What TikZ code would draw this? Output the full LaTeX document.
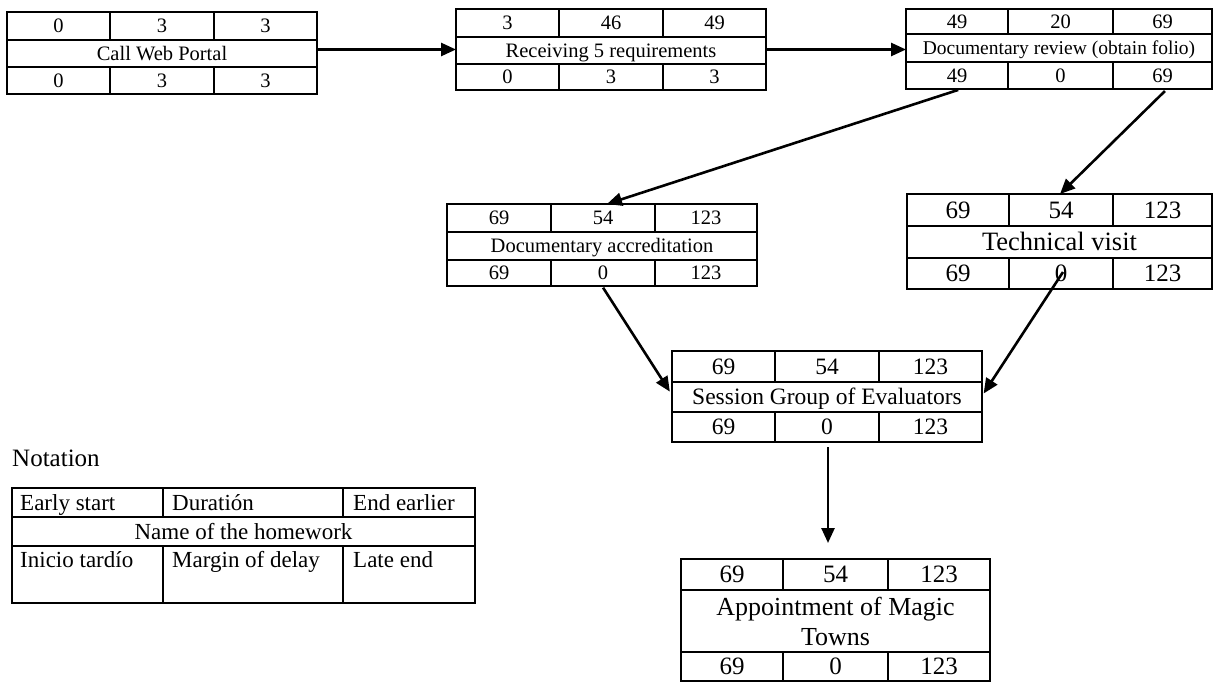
\documentclass[tikz,border=0pt]{standalone}
\usepackage{fontspec}
\setmainfont{Liberation Serif}
\usetikzlibrary{arrows.meta,calc}
\tikzset{
  frame/.style={draw=black, line width=1.2pt, inner sep=0pt, outer sep=0pt, rectangle},
  cell/.style={draw=black, line width=1.2pt},
  arr/.style={draw=black, line width=2.6pt, -{Triangle[length=15pt,width=13pt]}},
  txt/.style={inner sep=0pt, text depth=0pt},
  fa/.style={txt, text height=13.5pt, font=\fontsize{20.5}{24}\selectfont},
  fc/.style={txt, text height=12.9pt, font=\fontsize{19.5}{23}\selectfont},
  fe/.style={txt, text height=16.5pt, font=\fontsize{25}{30}\selectfont},
  fv/.style={txt, text height=17.5pt, font=\fontsize{26.5}{30}\selectfont},
  ff/.style={txt, text height=15.5pt, font=\fontsize{23.5}{28}\selectfont},
  fg/.style={inner sep=0pt, align=center, font=\fontsize{26}{30}\selectfont},
  fn/.style={txt, text height=15.2pt, anchor=west, font=\fontsize{23}{28}\selectfont},
}
% frame of a 3-row box: name, x1, y1, x2, y2, row1, row2, col1, col2
\newcommand\pert[9]{%
  \gdef\pxa{#2}\gdef\pya{#3}\gdef\pxb{#4}\gdef\pyb{#5}%
  \gdef\pra{#6}\gdef\prb{#7}\gdef\pca{#8}\gdef\pcb{#9}\gdef\pname{#1}%
  \node[frame, minimum width={#4-#2}, minimum height={#5-#3}] (#1) at ({(#2+#4)/2},{(#3+#5)/2}) {};
  \draw[cell] (#2,#6) -- (#4,#6) (#2,#7) -- (#4,#7)
              (#8,#3) -- (#8,#6) (#9,#3) -- (#9,#6)
              (#8,#7) -- (#8,#5) (#9,#7) -- (#9,#5);
}
% texts: cell style, label style, top a b c, label, bottom d e f
\newcommand\perttext[9]{%
  \node[#1] (\pname-a) at ({(\pxa+\pca)/2},{(\pya+\pra)/2}) {#3};
  \node[#1] (\pname-b) at ({(\pca+\pcb)/2},{(\pya+\pra)/2}) {#4};
  \node[#1] (\pname-c) at ({(\pcb+\pxb)/2},{(\pya+\pra)/2}) {#5};
  \node[#2] (\pname-n) at ({(\pxa+\pxb)/2},{(\pra+\prb)/2}) {#6};
  \node[#1] (\pname-d) at ({(\pxa+\pca)/2},{(\prb+\pyb)/2}) {#7};
  \node[#1] (\pname-e) at ({(\pca+\pcb)/2},{(\prb+\pyb)/2}) {#8};
  \node[#1] (\pname-f) at ({(\pcb+\pxb)/2},{(\prb+\pyb)/2}) {#9};
}
\begin{document}
\begin{tikzpicture}[x=1pt, y=-1pt]
  \fill[white] (0,0) rectangle (1214,682);
  \useasboundingbox (0,0) rectangle (1214,682);

  \pert{A}{7}{12}{317}{94}{40}{67}{110}{214}
  \perttext{fa}{fa}{0}{3}{3}{Call Web Portal}{0}{3}{3}

  \pert{B}{456}{9}{766}{90}{37}{64}{559}{663}
  \perttext{fa}{fa}{3}{46}{49}{Receiving 5 requirements}{0}{3}{3}

  \pert{C}{906}{9}{1212}{89}{34}{62}{1008}{1113}
  \perttext{fa}{fc}{49}{20}{69}{Documentary review (obtain folio)}{49}{0}{69}

  \pert{D}{447}{204}{757}{286}{232}{260}{551}{655}
  \perttext{fa}{fa}{69}{54}{123}{Documentary accreditation}{69}{0}{123}

  \pert{E}{907}{194}{1212}{289}{226}{258}{1009}{1113}
  \perttext{fe}{fv}{69}{54}{123}{Technical visit}{69}{0}{123}

  \pert{F}{672}{351}{982}{442}{382}{412}{775}{879}
  \perttext{ff}{ff}{69}{54}{123}{Session Group of Evaluators}{69}{0}{123}

  \pert{G}{681}{559}{990}{681}{590}{652}{783}{888}
  \perttext{fe}{fg}{69}{54}{123}{Appointment of Magic\\Towns}{69}{0}{123}

  % notation
  \node[txt, text height=16.5pt, anchor=west, font=\fontsize{25}{30}\selectfont] (title) at (12,458) {Notation};
  \pert{N}{12}{488}{475}{603}{517}{546}{163}{343}
  \node[fn] (N-a) at (20,502.5) {Early start};
  \node[fn] (N-b) at (172,502.5) {Duratión};
  \node[fn] (N-c) at (353,502.5) {End earlier};
  \node[fn, anchor=center] (N-n) at (243.5,531.5) {Name of the homework};
  \node[fn] (N-d) at (20,560) {Inicio tardío};
  \node[fn] (N-e) at (172,560) {Margin of delay};
  \node[fn] (N-f) at (353,560) {Late end};

  % connectors
  \draw[arr] (A.east |- B.west) -- (B.west);
  \draw[arr] (B.east) -- (B.east -| C.west);
  \draw[arr, shorten <=3pt] ([xshift=55pt]C.south west) -- ([xshift=160pt]D.north west);
  \draw[arr, shorten <=3pt] ([xshift=261pt]C.south west) -- ([xshift=153pt]E.north west);
  \draw[arr, shorten <=2pt, shorten >=4pt] ([xshift=155pt]D.south west) -- ([yshift=-44pt]F.north west);
  \draw[arr, shorten >=3pt] ([xshift=156pt,yshift=17pt]E.south west) -- ([yshift=-45pt]F.north east);
  \draw[arr, shorten <=5pt, shorten >=16pt] ([xshift=156pt]F.south west) -- ([xshift=147pt]G.north west);
\end{tikzpicture}
\end{document}
